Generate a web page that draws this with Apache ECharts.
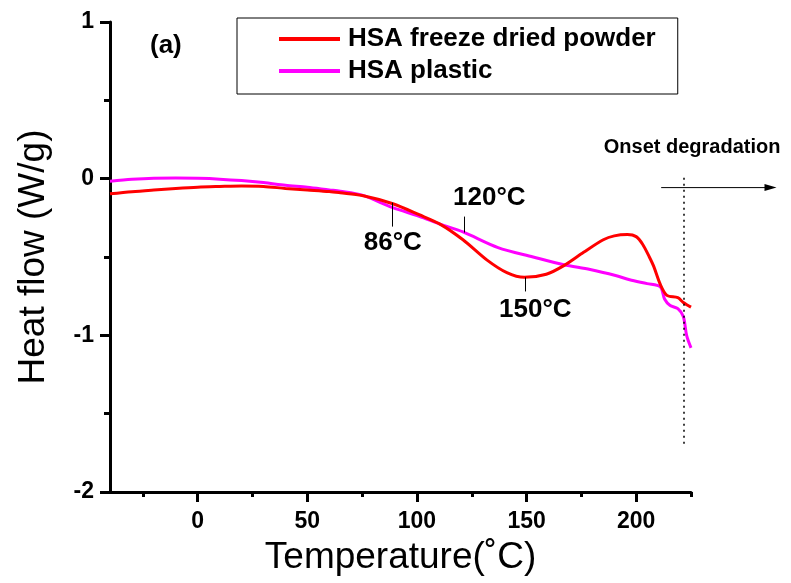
<!DOCTYPE html>
<html>
<head>
<meta charset="utf-8">
<script src="https://cdn.jsdelivr.net/npm/echarts@6/dist/echarts.min.js"></script>
<style>
  html, body { margin: 0; padding: 0; background: #fff; }
  #graph { width: 791px; height: 583px; }
</style>
</head>
<body>
<div id="graph"></div>
<script>
// temperatures (°C) and heat flow (W/g)
var powderTemp = [-40, -30, -20, -10, 0, 10, 20, 30, 40, 50, 60, 65, 75, 89, 101, 110.5, 121, 132, 141, 149, 159, 167, 176, 185, 190, 196, 200, 203, 206, 208, 211, 214, 219, 221.5, 225];
var powderHeat = [-0.097, -0.083, -0.072, -0.062, -0.054, -0.05, -0.047, -0.05, -0.062, -0.072, -0.082, -0.09, -0.108, -0.16, -0.23, -0.29, -0.39, -0.52, -0.6, -0.63, -0.61, -0.555, -0.47, -0.39, -0.365, -0.357, -0.37, -0.42, -0.5, -0.56, -0.675, -0.745, -0.76, -0.79, -0.82];

var plasticTemp = [-40, -30, -20, -10, 0, 10, 20, 30, 40, 50, 60, 65, 75, 89, 101, 110.5, 121, 137, 153, 167, 179, 191, 197, 205, 211, 213, 215.5, 219, 221.5, 223, 225];
var plasticHeat = [-0.017, -0.004, 0.003, 0.004, 0.002, -0.003, -0.012, -0.025, -0.042, -0.055, -0.072, -0.08, -0.105, -0.185, -0.24, -0.29, -0.34, -0.44, -0.5, -0.55, -0.58, -0.62, -0.645, -0.67, -0.69, -0.77, -0.81, -0.83, -0.88, -1.0, -1.08];

var seriesNames = ['HSA freeze dried powder', 'HSA plastic'];
var xMajorTicks = [0, 50, 100, 150, 200];
var xMinorTicks = [-25, 25, 75, 125, 175, 225];

// annotation marks: [x, yTop, yBottom] for the little pointer lines
var pointers = [[88.6, -0.153, -0.306], [121.5, -0.242, -0.344], [149.3, -0.63, -0.72]];
var pointerLabels = [['86°C', 89, -0.41], ['120°C', 133, -0.12], ['150°C', 154, -0.84]];
var onsetTemp = 221.5;
// arrow start/end temperature and its level, label position
var onsetArrow = [211.4, 264, -0.057];
var onsetLabel = ['Onset degradation', 225.5, 0.197];

function pairs(xs, ys) {
    return xs.map(function(x, i) { return [x, ys[i]]; });
}

var boldFont = 'Liberation Sans, Arial, sans-serif';

var markLines = pointers.map(function(p) {
    return [{coord: [p[0], p[1]]}, {coord: [p[0], p[2]]}];
});
markLines.push([{coord: [onsetTemp, 0.006], lineStyle: {type: [2, 4], width: 1.5}}, {coord: [onsetTemp, -1.694]}]);

var markPoints = pointerLabels.map(function(l) {
    return {coord: [l[1], l[2]], value: l[0]};
});

var option = {
    animation: false,
    backgroundColor: '#fff',
    grid: {left: 110, right: 100, top: 22, bottom: 91},
    legend: {
        orient: 'vertical',
        left: 237,
        top: 18,
        width: 433,
        padding: [8, 22, 10, 42],
        itemGap: 6,
        itemWidth: 61,
        itemHeight: 4,
        icon: 'rect',
        borderColor: '#000',
        borderWidth: 1,
        textStyle: {fontFamily: boldFont, fontWeight: 'bold', fontSize: 26, color: '#000', lineHeight: 26, padding: [0, 0, 0, 3]},
        data: seriesNames
    },
    xAxis: [{
        type: 'value',
        min: -40,
        max: 225,
        name: 'Temperature(˚C)',
        nameLocation: 'middle',
        nameGap: 47,
        nameTextStyle: {fontFamily: boldFont, fontSize: 37, color: '#000'},
        splitLine: {show: false},
        axisLine: {onZero: false, lineStyle: {color: '#000', width: 3}},
        axisTick: {customValues: xMajorTicks, length: 10, lineStyle: {width: 3, color: '#000'}},
        axisLabel: {customValues: xMajorTicks, margin: 18, fontFamily: boldFont, fontWeight: 'bold', fontSize: 23, color: '#000'}
    }, {
        type: 'value',
        min: -40,
        max: 225,
        position: 'bottom',
        splitLine: {show: false},
        axisLine: {show: false, onZero: false},
        axisTick: {customValues: xMinorTicks, length: 5, lineStyle: {width: 3, color: '#000'}},
        axisLabel: {show: false}
    }],
    yAxis: {
        type: 'value',
        min: -2,
        max: 1,
        interval: 1,
        name: 'Heat flow (W/g)',
        nameLocation: 'middle',
        nameGap: 58,
        nameTextStyle: {fontFamily: boldFont, fontSize: 37, color: '#000'},
        splitLine: {show: false},
        axisLine: {show: true, onZero: false, lineStyle: {color: '#000', width: 3}},
        axisTick: {show: true, length: 10, lineStyle: {width: 3, color: '#000'}},
        minorTick: {show: true, splitNumber: 2, length: 6, lineStyle: {width: 3, color: '#000'}},
        axisLabel: {margin: 16, fontFamily: boldFont, fontWeight: 'bold', fontSize: 23, color: '#000'}
    },
    series: [{
        name: seriesNames[0],
        type: 'line',
        data: pairs(powderTemp, powderHeat),
        smooth: 0.3,
        showSymbol: false,
        symbol: 'none',
        color: '#ff0000',
        lineStyle: {width: 3, color: '#ff0000'},
        z: 3,
        markLine: {
            silent: true,
            symbol: 'none',
            label: {show: false},
            lineStyle: {color: '#000', width: 1, type: 'solid'},
            data: markLines
        },
        markPoint: {
            silent: true,
            symbol: 'circle',
            symbolSize: 1,
            itemStyle: {color: 'rgba(0,0,0,0)'},
            label: {show: true, position: 'inside', formatter: '{c}', fontFamily: boldFont, fontWeight: 'bold', fontSize: 26, color: '#000'},
            data: markPoints
        }
    }, {
        name: seriesNames[1],
        type: 'line',
        data: pairs(plasticTemp, plasticHeat),
        smooth: 0.3,
        showSymbol: false,
        symbol: 'none',
        color: '#ff00ff',
        lineStyle: {width: 3, color: '#ff00ff'},
        z: 2
    }]
};

var chart = echarts.init(document.getElementById('graph'));
chart.setOption(option);

// arrow and onset label lie partly outside the axis range, so place them as graphics
var a0 = chart.convertToPixel({gridIndex: 0}, [onsetArrow[0], onsetArrow[2]]);
var a1 = chart.convertToPixel({gridIndex: 0}, [onsetArrow[1], onsetArrow[2]]);
var lp = chart.convertToPixel({gridIndex: 0}, [onsetLabel[1], onsetLabel[2]]);
chart.setOption({
    graphic: [{
        type: 'text',
        left: 150,
        top: 33,
        style: {text: '(a)', font: 'bold 26px Liberation Sans, Arial, sans-serif', fill: '#000'}
    }, {
        type: 'line',
        shape: {x1: a0[0], y1: a0[1], x2: a1[0] - 8, y2: a1[1]},
        style: {stroke: '#000', lineWidth: 1}
    }, {
        type: 'polygon',
        shape: {points: [[a1[0], a1[1]], [a1[0] - 12, a1[1] - 3.5], [a1[0] - 12, a1[1] + 3.5]]},
        style: {fill: '#000'}
    }, {
        type: 'text',
        x: lp[0],
        y: lp[1],
        style: {text: onsetLabel[0], font: 'bold 20px Liberation Sans, Arial, sans-serif', fill: '#000', align: 'center', verticalAlign: 'middle'}
    }]
});
</script>
</body>
</html>
